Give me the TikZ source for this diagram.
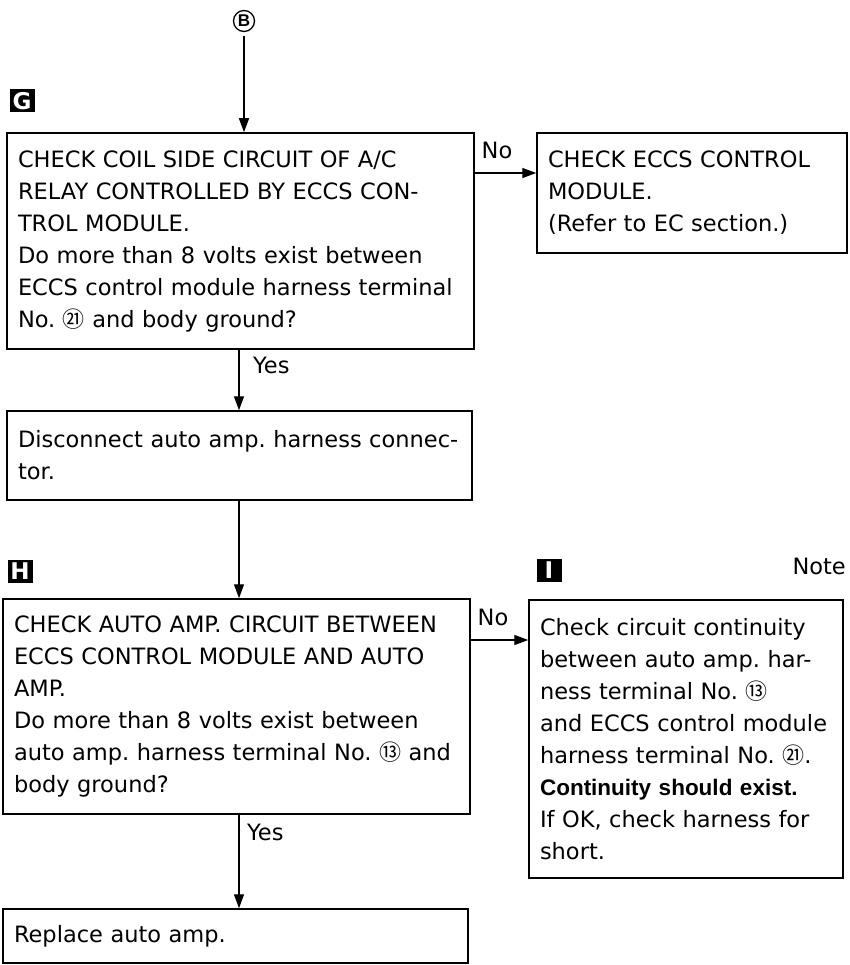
\documentclass[tikz,border=0pt]{standalone}
\usepackage{fontspec}
\setmainfont{DejaVu Sans}
\newfontfamily\libsans{Liberation Sans}
\newfontfamily\cjk{Noto Sans CJK JP}
\usetikzlibrary{arrows.meta,calc}
\newcommand{\circnum}[1]{{\cjk\fontsize{22}{22}\selectfont #1}}
\frenchspacing

\begin{document}

\begin{tikzpicture}[
  x=1pt,
  y=-1pt,
  stepbox/.style={
    draw,
    line width=1.5pt,
    inner xsep=11pt,
    inner ysep=0pt,
    align=left,
    font=\fontsize{22.5}{32}\selectfont
  },
  flowarrow/.style={
    -{Triangle[length=14pt,width=10pt]},
    line width=1.4pt
  },
  flowlabel/.style={
    inner sep=0pt,
    font=\fontsize{22.5}{22.5}\selectfont
  },
  steptag/.style={
    fill=black,
    text=white,
    inner sep=0pt,
    minimum width=25pt,
    minimum height=23pt,
    font=\bfseries\fontsize{23}{23}\selectfont
  }
]
\useasboundingbox (0,0) rectangle (850,965);

  % --------------------------------------------------------------
  % Entry point and step tags.
  % --------------------------------------------------------------
  \node[circle,draw,line width=1.3pt,inner sep=0pt,minimum size=21pt,
    font=\libsans\bfseries\fontsize{17}{17}\selectfont] (entryB) at (244,21) {B};

  \node[steptag] (tagG) at (22,101) {G};
  \node[steptag] (tagH) at (20,571) {H};
  \node[steptag] (tagI) at (549,570) {I};

  \node[flowlabel,anchor=east] (noteText) at (846,566) {Note};


  % --------------------------------------------------------------
  % Step boxes, placed by their centres.
  % --------------------------------------------------------------
  \node[stepbox,minimum width=467pt,minimum height=216pt,text width=445pt]
    (checkRelay) at (240.5,241)
    {CHECK COIL SIDE CIRCUIT OF A/C\\
     RELAY CONTROLLED BY ECCS CON-\\
     TROL MODULE.\\
     Do more than 8 volts exist between\\
     ECCS control module harness terminal\\
     No. \circnum{㉑} and body ground?};

  \node[stepbox,minimum width=310pt,minimum height=120pt,text width=288pt]
    (checkModule) at (692,193)
    {CHECK ECCS CONTROL\\
     MODULE.\\
     (Refer to EC section.)};

  \node[stepbox,minimum width=465pt,minimum height=89pt,text width=443pt]
    (disconnectAmp) at (239.5,455.5)
    {Disconnect auto amp. harness connec-\\
     tor.};

  \node[stepbox,minimum width=467pt,minimum height=215pt,text width=445pt]
    (checkAmpCircuit) at (236.5,706.5)
    {CHECK AUTO AMP. CIRCUIT BETWEEN\\
     ECCS CONTROL MODULE AND AUTO\\
     AMP.\\
     Do more than 8 volts exist between\\
     auto amp. harness terminal No. \circnum{⑬} and\\
     body ground?};

  \node[stepbox,minimum width=314pt,minimum height=278pt,text width=292pt]
    (checkContinuity) at (686,739)
    {Check circuit continuity\\
     between auto amp. har-\\
     ness terminal No. \circnum{⑬}\\
     and ECCS control module\\
     harness terminal No. \circnum{㉑}.\\
     {\libsans\bfseries Continuity should exist.}\\
     If OK, check harness for\\
     short.};

  \node[stepbox,minimum width=465pt,minimum height=54pt,text width=443pt]
    (replaceAmp) at (235.5,936)
    {Replace auto amp.};


  % --------------------------------------------------------------
  % Connectors.
  % --------------------------------------------------------------
  \coordinate (spine)  at (239,0);
  \coordinate (noRowA) at (0,173);
  \coordinate (noRowB) at (0,640);

  \draw[flowarrow,shorten <=4pt] (entryB) -- (checkRelay.north -| entryB);

  \draw[flowarrow] (checkRelay.south -| spine) -- (disconnectAmp.north -| spine);
  \draw[flowarrow] (disconnectAmp.south -| spine) -- (checkAmpCircuit.north -| spine);
  \draw[flowarrow] (checkAmpCircuit.south -| spine) -- (replaceAmp.north -| spine);

  \draw[flowarrow] (checkRelay.east |- noRowA) -- (checkModule.west |- noRowA);
  \draw[flowarrow] (checkAmpCircuit.east |- noRowB) -- (checkContinuity.west |- noRowB);

  \node[flowlabel] (noRelay) at (497,150) {No};
  \node[flowlabel] (noAmp)   at (493,617) {No};
  \node[flowlabel,anchor=west] (yesRelay) at (253,365) {Yes};
  \node[flowlabel,anchor=west] (yesAmp)   at (247,832) {Yes};

\end{tikzpicture}
\end{document}
